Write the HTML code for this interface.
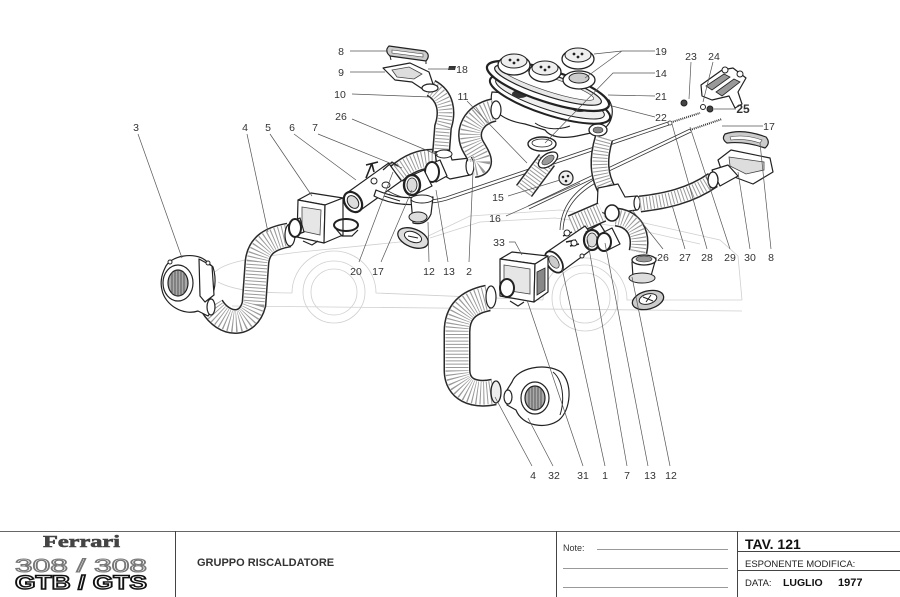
<!DOCTYPE html>
<html><head><meta charset="utf-8"><style>
html,body{margin:0;padding:0;background:#fff;}
svg{display:block;}
.l{stroke:#555;stroke-width:0.7;fill:none;}
.t{font-family:"Liberation Sans",sans-serif;font-size:10.5px;fill:#333;text-anchor:middle;}
.p{fill:#fff;stroke:#222;stroke-width:1.2;stroke-linejoin:round;}
.car{fill:none;stroke:#cfcfcf;stroke-width:0.8;}
.hk{fill:none;stroke:#2a2a2a;stroke-linecap:butt;}
.hw{fill:none;stroke:#fff;stroke-linecap:butt;}
.hr{fill:none;stroke:#9a9a9a;stroke-dasharray:1 2.3;stroke-linecap:butt;}
.cab{fill:none;stroke:#333;stroke-width:0.8;}
</style></head><body>
<svg width="900" height="597" viewBox="0 0 900 597" xmlns="http://www.w3.org/2000/svg">
<rect width="900" height="597" fill="#fff"/>

<!-- car outline -->
<g class="car">
<path d="M215,272 C225,262 250,258 300,252 L420,240 L470,216 L560,210 L640,222 L720,240 L738,256 L742,300"/>
<path d="M218,282 C235,291 262,293 292,293"/>
<path d="M292,293 A42,42 0 0 1 376,293 L543,300"/>
<path d="M543,300 A42,42 0 0 1 627,300 L742,300"/>
<circle cx="334" cy="292" r="23"/><circle cx="334" cy="292" r="31"/>
<circle cx="585" cy="298" r="25"/><circle cx="585" cy="298" r="33"/>
<path d="M232,306 L742,311"/>
<path d="M430,238 L480,222 L555,218 L630,228 L700,244"/>
</g>

<!-- cables -->
<g>
<path class="cab" d="M388,191 C402,199 422,204 446,197 L668,122"/>
<path class="cab" d="M389,194 C403,202 423,207 447,200 L669,125"/>
<path d="M669,123 L700,113" stroke="#333" stroke-width="2" stroke-dasharray="1 1"/>
<path class="cab" d="M528,206 L690,129"/>
<path class="cab" d="M529,209 L691,132"/>
<path d="M690,130 L722,119" stroke="#333" stroke-width="2" stroke-dasharray="1 1"/>
<circle cx="670" cy="123" r="2" fill="#fff" stroke="#333" stroke-width="0.8"/>
<path class="cab" d="M560,230 C561,206 575,190 597,178"/>
<path class="cab" d="M563,230 C564,208 577,193 599,181"/>
</g>

<!-- hose 4 left -->
<g>
<path class="hk" stroke-width="25" d="M212,306 C224,326 248,328 254,304 L257,262 C259,244 272,238 289,235"/>
<path class="hw" stroke-width="22" d="M212,306 C224,326 248,328 254,304 L257,262 C259,244 272,238 289,235"/>
<path class="hr" stroke-width="21" d="M212,306 C224,326 248,328 254,304 L257,262 C259,244 272,238 289,235"/>
<ellipse class="p" cx="290" cy="235" rx="5" ry="11"/>
</g>

<!-- blower 3 -->
<g>
<path class="p" stroke-width="1.4" d="M165,268 C170,255 195,252 205,260 L213,267 C217,280 215,293 209,300 L215,306 L208,316 L198,311 C183,316 165,305 162,290 C160,282 162,274 165,268 Z"/>
<path class="p" d="M199,259 L212,266 L214,295 L205,302 L200,296 Z" fill="#eee"/>
<ellipse cx="178" cy="283" rx="15" ry="18" fill="#fff" stroke="#222" stroke-width="1.2"/>
<ellipse cx="178" cy="283" rx="10" ry="13" fill="#aaa" stroke="#222" stroke-width="1.2"/>
<path d="M172,272 L172,294 M175,270 L175,296 M178,270 L178,296 M181,270 L181,296 M184,272 L184,294" stroke="#444" stroke-width="0.8"/>
<ellipse class="p" cx="211" cy="307" rx="4" ry="8"/>
<circle cx="170" cy="262" r="2" fill="#fff" stroke="#222"/>
<circle cx="208" cy="263" r="2" fill="#fff" stroke="#222"/>
</g>

<!-- box 5 -->
<g>
<path class="p" d="M298,200 L311,193 L343,198 L325,205 Z" fill="#f2f2f2"/>
<path class="p" d="M298,200 L325,205 L324,243 L297,237 Z"/>
<path class="p" d="M325,205 L343,198 L343,235 L324,243 Z" fill="#f4f4f4"/>
<path d="M302,207 L321,210 L320,235 L302,231 Z" fill="#e6e6e6" stroke="#444" stroke-width="0.8"/>
<path class="p" d="M290,222 L300,218 L304,232 L293,236 Z"/>
<ellipse cx="295" cy="228" rx="6" ry="9" fill="#fff" stroke="#222" stroke-width="2"/>
<ellipse cx="346" cy="225" rx="12" ry="6" fill="none" stroke="#222" stroke-width="2"/>
<path d="M336,229 L342,236 L352,236 L358,230" fill="none" stroke="#222" stroke-width="1.2"/>
<path d="M303,241 L312,245 L318,241" fill="none" stroke="#222" stroke-width="1.2"/>
</g>

<!-- hose 7 upper-left and valve 6 -->
<g>
<path class="hk" stroke-width="20" d="M396,174 C410,162 425,156 442,160"/>
<path class="hw" stroke-width="17" d="M396,174 C410,162 425,156 442,160"/>
<path class="hr" stroke-width="16" d="M396,174 C410,162 425,156 442,160"/>
<path class="p" d="M346.6,193.1 L388.6,163.1 L401.4,180.9 L359.4,210.9 Z"/>
<path class="p" d="M376,190 C390,196 405,200 425,196 L427,203 C405,207 388,203 374,196 Z"/>
<ellipse cx="353" cy="202" rx="11" ry="8" transform="rotate(54 353 202)" fill="#fff" stroke="#222" stroke-width="2.2"/>
<ellipse cx="353" cy="202" rx="7" ry="5" transform="rotate(54 353 202)" fill="#ddd" stroke="#222" stroke-width="1"/>
<path d="M366,178 L372,163 M366,165 L378,162 M372,164 L374,172" stroke="#222" stroke-width="1.6" fill="none"/>
<circle cx="374" cy="181" r="3" fill="#fff" stroke="#222"/>
<ellipse cx="386" cy="185" rx="4" ry="3" fill="#fff" stroke="#222"/>
<path d="M383,170 L392,162 L398,166" fill="none" stroke="#222" stroke-width="1.2"/>
</g>

<!-- hose 10 -->
<g>
<path class="hk" stroke-width="18" d="M431,88 C446,96 448,112 443,127 L441,153"/>
<path class="hw" stroke-width="15" d="M431,88 C446,96 448,112 443,127 L441,153"/>
<path class="hr" stroke-width="14" d="M431,88 C446,96 448,112 443,127 L441,153"/>
</g>

<!-- vents 8 / 9 left -->
<g>
<path d="M389,46 L425,51 Q431,55 426,61 L390,56 Q384,51 389,46 Z" fill="#ccc" stroke="#222" stroke-width="1.2"/>
<path d="M392,50 L423,54 L423,57 L392,53 Z" fill="#fff" stroke="#444" stroke-width="0.6"/>
<path d="M390,56 L391,60 M426,61 L426,64" stroke="#222"/>
<path class="p" d="M383,68 L410,63 L429,72 L433,84 L424,90 L412,82 L395,80 Z"/>
<path d="M392,70 L409,67 L422,74 L414,79 L397,77 Z" fill="#ddd" stroke="#444" stroke-width="0.8"/>
<ellipse class="p" cx="430" cy="88" rx="8" ry="4"/>
<path d="M449,66 L456,66 L455,70 L448,70 Z" fill="#333"/>
</g>

<!-- T junction 26 + collars -->
<g>
<path class="p" d="M435,152 L449,150 L452,160 L470,158 L470,175 L450,179 L438,172 Z"/>
<ellipse cx="444" cy="154" rx="8" ry="4" fill="#fff" stroke="#222"/>
<ellipse cx="470" cy="166" rx="4" ry="9" fill="#fff" stroke="#222" stroke-width="1.2"/>
<path class="p" d="M428,165 L440,160 L447,176 L436,182 Z"/>
<ellipse cx="432" cy="172" rx="7" ry="10" fill="#fff" stroke="#222" stroke-width="2"/>
<path class="p" d="M408,177 L424,170 L432,186 L416,194 Z"/>
<ellipse cx="412" cy="185" rx="8" ry="10" fill="#fff" stroke="#222" stroke-width="2.4"/>
<ellipse cx="412" cy="185" rx="5" ry="7" fill="#ddd" stroke="#222" stroke-width="0.8"/>
<path d="M384,196 L400,201" stroke="#222" stroke-width="1"/>
</g>

<!-- nozzle 13 and disc 12 left -->
<g>
<path class="p" d="M411,200 L433,197 L431,214 Q426,226 413,223 Z"/>
<ellipse cx="422" cy="199" rx="11" ry="4" fill="#fff" stroke="#222"/>
<ellipse cx="418" cy="217" rx="9" ry="5" fill="#ddd" stroke="#222"/>
<ellipse cx="413" cy="238" rx="16" ry="9" transform="rotate(22 413 238)" fill="#ddd" stroke="#222" stroke-width="1.3"/>
<ellipse cx="413" cy="237" rx="9" ry="5" transform="rotate(22 413 237)" fill="#fff" stroke="#222"/>
<path d="M408,236 L418,238" stroke="#222"/>
</g>

<!-- distributor -->
<g>
<path class="p" d="M492,92 C488,108 500,120 525,124 L545,130 C550,137 562,139 577,136 L600,131 C613,125 615,110 609,100 Z"/>
<ellipse cx="598" cy="130" rx="9" ry="6" fill="#fff" stroke="#222" stroke-width="1.3"/>
<ellipse cx="598" cy="130" rx="5" ry="3" fill="#888" stroke="#222" stroke-width="0.6"/>
<path d="M535,123 C545,130 560,130 570,126" fill="none" stroke="#222"/>
<ellipse cx="550" cy="99" rx="63" ry="16" transform="rotate(18 550 99)" fill="#fff" stroke="#222" stroke-width="2"/>
<ellipse cx="550" cy="98" rx="57" ry="12" transform="rotate(18 550 98)" fill="#eee" stroke="#222" stroke-width="1"/>
<ellipse cx="520" cy="94" rx="8" ry="4" fill="#333"/>
<ellipse cx="580" cy="108" rx="8" ry="4" fill="#333"/>
<ellipse cx="548" cy="86" rx="64" ry="16" transform="rotate(18 548 86)" fill="#fff" stroke="#222" stroke-width="2.2"/>
<ellipse cx="548" cy="85" rx="56" ry="11" transform="rotate(18 548 85)" fill="#e8e8e8" stroke="#222" stroke-width="1.2"/>
<ellipse cx="548" cy="84" rx="48" ry="7" transform="rotate(18 548 84)" fill="#fff" stroke="#444" stroke-width="0.7"/>
<!-- vents 19 -->
<ellipse cx="514" cy="65" rx="16" ry="10" fill="#fff" stroke="#222" stroke-width="1.3"/>
<ellipse cx="514" cy="61" rx="13" ry="7" fill="#eee" stroke="#222"/>
<circle cx="510" cy="60" r="1.4" fill="#222"/><circle cx="518" cy="60" r="1.4" fill="#222"/><circle cx="514" cy="63" r="1.4" fill="#222"/>
<ellipse cx="545" cy="72" rx="16" ry="10" fill="#fff" stroke="#222" stroke-width="1.3"/>
<ellipse cx="545" cy="68" rx="13" ry="7" fill="#eee" stroke="#222"/>
<circle cx="541" cy="67" r="1.4" fill="#222"/><circle cx="549" cy="67" r="1.4" fill="#222"/><circle cx="545" cy="70" r="1.4" fill="#222"/>
<ellipse cx="579" cy="80" rx="16" ry="9" fill="#fff" stroke="#222" stroke-width="1.3"/>
<ellipse cx="579" cy="78" rx="10" ry="5" fill="#ccc" stroke="#222"/>
<ellipse cx="578" cy="59" rx="16" ry="10" fill="#fff" stroke="#222" stroke-width="1.3"/>
<ellipse cx="578" cy="55" rx="13" ry="7" fill="#eee" stroke="#222"/>
<circle cx="574" cy="54" r="1.4" fill="#222"/><circle cx="582" cy="54" r="1.4" fill="#222"/><circle cx="578" cy="57" r="1.4" fill="#222"/>
<!-- ring 14 -->
<ellipse cx="542" cy="144" rx="14" ry="7" fill="#fff" stroke="#222" stroke-width="1.4"/>
<ellipse cx="542" cy="143" rx="10" ry="4" fill="#fff" stroke="#222" stroke-width="0.8"/>
</g>

<!-- hose 11 big -->
<g>
<path class="hk" stroke-width="24" d="M494,110 C474,114 464,132 474,148 C480,158 484,165 474,166"/>
<path class="hw" stroke-width="21" d="M494,110 C474,114 464,132 474,148 C480,158 484,165 474,166"/>
<path class="hr" stroke-width="20" d="M494,110 C474,114 464,132 474,148 C480,158 484,165 474,166"/>
<ellipse class="p" cx="496" cy="110" rx="5" ry="9"/>
</g>

<!-- small corrugated tube + part 15 -->
<g>
<path class="hk" stroke-width="20" d="M524,191 L547,160"/>
<path class="hw" stroke-width="17" d="M524,191 L547,160"/>
<path class="hr" stroke-width="16" d="M524,191 L547,160"/>
<ellipse cx="548" cy="160" rx="11" ry="6" transform="rotate(-35 548 160)" fill="#fff" stroke="#222" stroke-width="1.3"/>
<ellipse cx="548" cy="160" rx="7" ry="3.5" transform="rotate(-35 548 160)" fill="#999" stroke="#222" stroke-width="0.6"/>
<circle cx="566" cy="178" r="7" fill="#eee" stroke="#222" stroke-width="1.2"/>
<circle cx="563" cy="177" r="1.3" fill="#222"/><circle cx="568" cy="176" r="1.3" fill="#222"/><circle cx="566" cy="181" r="1.3" fill="#222"/>
</g>

<!-- hose 5 (from distributor down) -->
<g>
<path class="hk" stroke-width="19" d="M604,138 C598,158 598,175 608,192"/>
<path class="hw" stroke-width="16" d="M604,138 C598,158 598,175 608,192"/>
<path class="hr" stroke-width="15" d="M604,138 C598,158 598,175 608,192"/>
</g>

<!-- right junction -->
<g>
<path class="p" d="M598,188 L618,184 L625,197 L637,196 L637,210 L620,212 L610,216 L597,210 Z"/>
<ellipse cx="637" cy="203" rx="3" ry="7" fill="#fff" stroke="#222" stroke-width="1.2"/>
<path class="hk" stroke-width="17" d="M640,204 C665,201 690,196 713,180"/>
<path class="hw" stroke-width="14" d="M640,204 C665,201 690,196 713,180"/>
<path class="hr" stroke-width="13" d="M640,204 C665,201 690,196 713,180"/>
<path class="hk" stroke-width="21" d="M572,225 L602,212"/>
<path class="hw" stroke-width="18" d="M572,225 L602,212"/>
<path class="hr" stroke-width="17" d="M572,225 L602,212" stroke="#555"/>
<path class="hk" stroke-width="19" d="M616,217 C634,219 642,233 638,252"/>
<path class="hw" stroke-width="16" d="M616,217 C634,219 642,233 638,252"/>
<path class="hr" stroke-width="15" d="M616,217 C634,219 642,233 638,252"/>
<ellipse cx="612" cy="213" rx="7" ry="8" fill="#fff" stroke="#222" stroke-width="1.6"/>
</g>

<!-- valve 1 + collars -->
<g>
<path class="p" d="M547,252 L585,226 L599,244 L561,272 Z"/>
<ellipse cx="554" cy="262" rx="12" ry="7" transform="rotate(55 554 262)" fill="#fff" stroke="#222" stroke-width="1.8"/>
<ellipse cx="554" cy="262" rx="7" ry="4" transform="rotate(55 554 262)" fill="#ccc" stroke="#222" stroke-width="0.7"/>
<path d="M563,236 L572,232 M566,242 L576,240 M570,246 L579,244" stroke="#222" stroke-width="1.5"/>
<circle cx="567" cy="233" r="3" fill="#fff" stroke="#222"/>
<circle cx="574" cy="243" r="3" fill="#fff" stroke="#222"/>
<circle cx="582" cy="256" r="2" fill="#fff" stroke="#222"/>
<path class="p" d="M586,232 L600,224 L610,240 L596,248 Z"/>
<ellipse cx="592" cy="240" rx="8" ry="10" fill="#fff" stroke="#222" stroke-width="2.2"/>
<ellipse cx="592" cy="240" rx="5" ry="7" fill="#ddd" stroke="#222" stroke-width="0.7"/>
<path class="p" d="M600,234 L612,228 L620,244 L608,250 Z"/>
<ellipse cx="604" cy="242" rx="7" ry="9" fill="#fff" stroke="#222" stroke-width="2"/>
</g>

<!-- nozzle 13 / disc 12 right -->
<g>
<path class="p" d="M632,262 L656,258 L651,276 Q641,284 633,277 Z"/>
<ellipse cx="644" cy="260" rx="12" ry="5" fill="#fff" stroke="#222" stroke-width="1.3"/>
<ellipse cx="644" cy="259" rx="8" ry="3" fill="#999" stroke="#222" stroke-width="0.6"/>
<ellipse cx="642" cy="278" rx="13" ry="5" fill="#ddd" stroke="#222"/>
<ellipse cx="648" cy="300" rx="16" ry="9" transform="rotate(-15 648 300)" fill="#ccc" stroke="#222" stroke-width="1.3"/>
<ellipse cx="648" cy="299" rx="9" ry="5" transform="rotate(-15 648 299)" fill="#fff" stroke="#222"/>
<path d="M643,297 L653,301 M646,302 L651,295" stroke="#222"/>
</g>

<!-- vents 30 / 8 right -->
<g>
<path d="M725,134 Q742,128 766,137 Q771,143 765,148 Q745,141 727,143 Q721,139 725,134 Z" fill="#ccc" stroke="#222" stroke-width="1.2"/>
<path d="M730,137 Q745,134 762,140 L760,143 Q745,138 731,140 Z" fill="#fff" stroke="#444" stroke-width="0.6"/>
<path class="p" d="M718,160 L731,150 L770,158 L773,172 L753,184 L737,178 L722,172 Z"/>
<path d="M729,157 L764,162 L764,170 L746,174 L730,166 Z" fill="#ddd" stroke="#444" stroke-width="0.8"/>
<path class="p" d="M712,170 L728,165 L738,176 L720,186 Z"/>
<ellipse cx="713" cy="180" rx="5" ry="8" fill="#fff" stroke="#222" stroke-width="1.3"/>
</g>

<!-- part 24 + 23 + 25 -->
<g>
<path class="p" d="M701,85 L722,70 L733,68 L746,78 L738,92 L742,104 L735,108 L729,96 L712,100 L702,96 Z"/>
<path d="M706,86 L724,74 L730,77 L712,90 Z" fill="#999" stroke="#222" stroke-width="0.8"/>
<path d="M716,92 L734,79 L740,82 L722,96 Z" fill="#999" stroke="#222" stroke-width="0.8"/>
<circle cx="725" cy="70" r="3" fill="#fff" stroke="#222"/>
<circle cx="740" cy="74" r="3" fill="#fff" stroke="#222"/>
<circle cx="684" cy="103" r="3" fill="#444" stroke="#222"/>
<circle cx="703" cy="107" r="2.5" fill="#fff" stroke="#222"/>
<circle cx="710" cy="109" r="3" fill="#444" stroke="#222"/>
</g>

<!-- hose 4 lower -->
<g>
<path class="hk" stroke-width="27" d="M488,298 C468,302 457,312 457,332 L457,370 C457,390 474,396 494,392"/>
<path class="hw" stroke-width="24" d="M488,298 C468,302 457,312 457,332 L457,370 C457,390 474,396 494,392"/>
<path class="hr" stroke-width="23" d="M488,298 C468,302 457,312 457,332 L457,370 C457,390 474,396 494,392"/>
<ellipse class="p" cx="491" cy="297" rx="5" ry="11"/>
<ellipse cx="496" cy="392" rx="5" ry="11" fill="#eee" stroke="#222" stroke-width="1.3"/>
</g>

<!-- box 33 -->
<g>
<path class="p" d="M500,259 L512,252 L548,256 L535,264 Z" fill="#f2f2f2"/>
<path class="p" d="M500,259 L535,264 L534,302 L500,296 Z"/>
<path class="p" d="M535,264 L548,256 L548,292 L534,302 Z" fill="#f4f4f4"/>
<path d="M504,265 L530,269 L530,294 L504,290 Z" fill="#e6e6e6" stroke="#444" stroke-width="0.8"/>
<ellipse cx="507" cy="288" rx="7" ry="9" fill="#fff" stroke="#222" stroke-width="2"/>
<path d="M537,272 L545,268 L545,290 L537,295 Z" fill="#888" stroke="#222" stroke-width="0.8"/>
<path d="M510,301 L518,306 L524,302" fill="none" stroke="#222" stroke-width="1.2"/>
</g>

<!-- blower 32 -->
<g>
<path class="p" stroke-width="1.4" d="M512,382 C517,368 545,362 561,372 C573,383 571,410 559,420 C546,430 522,426 516,410 L507,405 L507,390 Z"/>
<ellipse cx="535" cy="398" rx="14" ry="16" fill="#fff" stroke="#222" stroke-width="1.2"/>
<ellipse cx="535" cy="398" rx="10" ry="12" fill="#aaa" stroke="#222" stroke-width="1.2"/>
<path d="M529,389 L529,407 M532,387 L532,409 M535,386 L535,410 M538,387 L538,409 M541,389 L541,407" stroke="#444" stroke-width="0.8"/>
<ellipse class="p" cx="508" cy="397" rx="4" ry="7"/>
<path d="M553,372 C563,380 565,400 560,415" fill="none" stroke="#222"/>
</g>

<!-- leader lines -->
<g class="l">
<path d="M138,134 L182,258"/>
<path d="M247,134 L268,232"/>
<path d="M270,134 L312,196"/>
<path d="M294,134 L356,180"/>
<path d="M318,134 L402,168"/>
<path d="M352,119 L438,155"/>
<path d="M350,51 L388,51"/>
<path d="M350,72 L385,72"/>
<path d="M352,94 L430,97"/>
<path d="M428,69 L454,69"/>
<path d="M467,101 L527,163"/>
<path d="M655,51 L622,51 L594,54 M622,51 L585,78"/>
<path d="M655,73 L613,73 L545,143"/>
<path d="M655,96 L608,95"/>
<path d="M655,117 L608,105"/>
<path d="M691,62 L689,99"/>
<path d="M713,62 L703,102"/>
<path d="M736,109 L714,109"/>
<path d="M763,126 L722,126"/>
<path d="M508,196 L560,180"/>
<path d="M506,216 L580,183"/>
<path d="M359,262 L393,172"/>
<path d="M381,262 L412,190"/>
<path d="M429,262 L428,222"/>
<path d="M448,262 L436,190"/>
<path d="M469,262 L473,172"/>
<path d="M509,242 L515,242 L522,255"/>
<path d="M663,249 L632,210"/>
<path d="M685,249 L672,205"/>
<path d="M707,249 L672,124"/>
<path d="M730,249 L690,127"/>
<path d="M750,249 L738,172"/>
<path d="M771,249 L760,143"/>
<path d="M532,466 L495,397"/>
<path d="M553,466 L528,418"/>
<path d="M583,466 L527,300"/>
<path d="M605,466 L562,268"/>
<path d="M627,466 L587,237"/>
<path d="M648,466 L605,243"/>
<path d="M670,466 L632,277"/>
</g>

<!-- labels -->
<g class="t">
<text x="136" y="131">3</text><text x="245" y="131">4</text><text x="268" y="131">5</text>
<text x="292" y="131">6</text><text x="315" y="131">7</text><text x="341" y="120">26</text>
<text x="341" y="55">8</text><text x="341" y="76">9</text><text x="340" y="98">10</text>
<text x="462" y="73">18</text><text x="463" y="100">11</text>
<text x="661" y="55">19</text><text x="661" y="77">14</text><text x="661" y="100">21</text><text x="661" y="121">22</text>
<text x="691" y="60">23</text><text x="714" y="60">24</text>
<text x="743" y="113" style="font-size:12px;font-weight:bold">25</text><text x="769" y="130">17</text>
<text x="498" y="201">15</text><text x="495" y="222">16</text>
<text x="356" y="275">20</text><text x="378" y="275">17</text><text x="429" y="275">12</text>
<text x="449" y="275">13</text><text x="469" y="275">2</text><text x="499" y="246">33</text>
<text x="663" y="261">26</text><text x="685" y="261">27</text><text x="707" y="261">28</text>
<text x="730" y="261">29</text><text x="750" y="261">30</text><text x="771" y="261">8</text>
<text x="533" y="479">4</text><text x="554" y="479">32</text><text x="583" y="479">31</text>
<text x="605" y="479">1</text><text x="627" y="479">7</text><text x="650" y="479">13</text><text x="671" y="479">12</text>
</g>

<!-- title block -->
<g stroke="#444" stroke-width="1" fill="none">
<path d="M0,531.5 L900,531.5" stroke="#666"/>
<path d="M175.5,531 L175.5,597"/>
<path d="M556.5,531 L556.5,597"/>
<path d="M737.5,531 L737.5,597"/>
<path d="M738,551.5 L900,551.5"/>
<path d="M738,570.5 L900,570.5"/>
<path d="M597,549.5 L728,549.5" stroke="#777" stroke-width="0.7"/>
<path d="M563,568.5 L728,568.5" stroke="#777" stroke-width="0.7"/>
<path d="M563,587.5 L728,587.5" stroke="#777" stroke-width="0.7"/>
</g>
<text x="43" y="547" textLength="77" lengthAdjust="spacingAndGlyphs" style="font-family:'Liberation Serif',serif;font-weight:bold;font-size:17px;fill:#444;stroke:#444;stroke-width:0.6">Ferrari</text>
<text x="15" y="572" textLength="132" lengthAdjust="spacingAndGlyphs" style="font-family:'Liberation Sans',sans-serif;font-size:18px;fill:#fff;stroke:#777;stroke-width:1.1">308 / 308</text>
<text x="15" y="589" textLength="132" lengthAdjust="spacingAndGlyphs" style="font-family:'Liberation Sans',sans-serif;font-weight:bold;font-size:19px;fill:#fff;stroke:#111;stroke-width:1.4">GTB / GTS</text>
<text x="197" y="566" style="font-family:'Liberation Sans',sans-serif;font-size:11px;font-weight:bold;fill:#333">GRUPPO RISCALDATORE</text>
<text x="563" y="551" style="font-family:'Liberation Sans',sans-serif;font-size:9px;fill:#333">Note:</text>
<text x="745" y="549" style="font-family:'Liberation Sans',sans-serif;font-size:14px;font-weight:bold;fill:#111">TAV. 121</text>
<text x="745" y="567" style="font-family:'Liberation Sans',sans-serif;font-size:9.5px;fill:#222">ESPONENTE MODIFICA:</text>
<text x="745" y="586" style="font-family:'Liberation Sans',sans-serif;font-size:9.5px;fill:#222">DATA:</text>
<text x="783" y="586" style="font-family:'Liberation Sans',sans-serif;font-size:10.5px;font-weight:bold;fill:#111">LUGLIO</text>
<text x="838" y="586" style="font-family:'Liberation Sans',sans-serif;font-size:11px;font-weight:bold;fill:#111">1977</text>
</svg>
</body></html>
